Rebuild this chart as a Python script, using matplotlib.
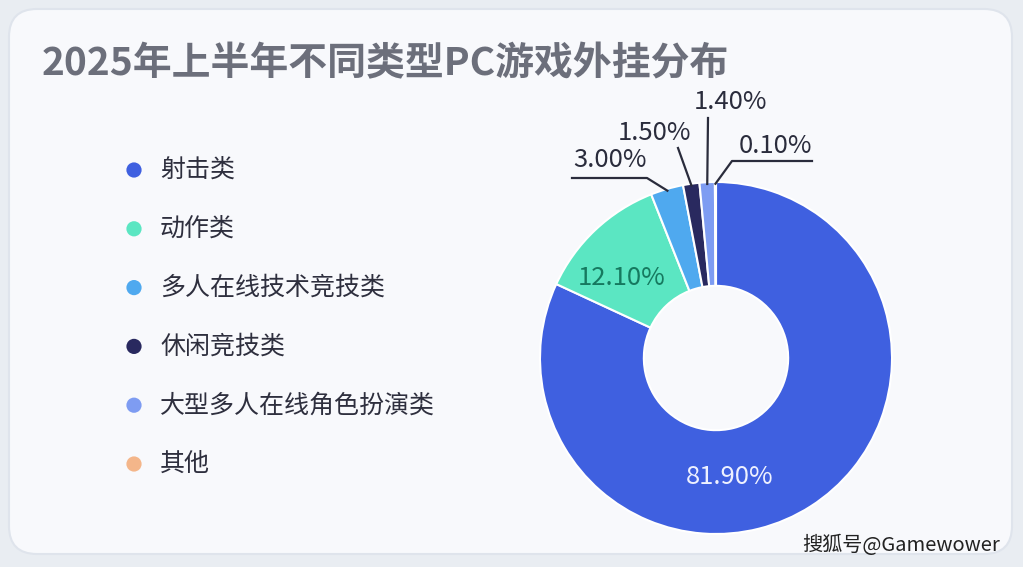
import numpy as np
import matplotlib.pyplot as plt
from matplotlib.patches import FancyBboxPatch

plt.rcParams['font.family'] = ['Noto Sans CJK SC', 'DejaVu Sans']

# data
categories = ['射击类', '动作类', '多人在线技术竞技类', '休闲竞技类', '大型多人在线角色扮演类', '其他']
shares = [81.9, 12.1, 3.0, 1.5, 1.4, 0.1]
colors = ['#3f60e0', '#5be6c2', '#4fa9ef', '#29295f', '#7e9cf2', '#f4b68a']
title = '2025年上半年不同类型PC游戏外挂分布'

W, H = 1023, 567
fig = plt.figure(figsize=(W / 100, H / 100), dpi=100)
fig.patch.set_facecolor('#e9edf2')

# card background, pixel coordinates (y down)
bg = fig.add_axes([0, 0, 1, 1])
bg.set_xlim(0, W)
bg.set_ylim(H, 0)
bg.axis('off')
card = FancyBboxPatch((9, 9), W - 20, H - 22, boxstyle='round,pad=0,rounding_size=28',
                      facecolor='#f8f9fc', edgecolor='#dfe4ec', linewidth=1.5)
bg.add_patch(card)

bg.text(42, 64, title, fontsize=28, fontweight='bold', color='#6c6f7b', va='center', ha='left')

# legend
for i, (cat, c) in enumerate(zip(categories, colors)):
    y = 170 + i * 58.8
    bg.scatter([134], [y], s=120, color=c, edgecolors='none')
    bg.text(160, y, cat, fontsize=18, color='#2e2f3e', va='center', ha='left')

bg.text(1000, 545, '搜狐号@Gamewower', fontsize=14.5, color='#222222', ha='right', va='center')

# donut, centre at (716,358), radius 176 px
cx, cy, r = 716, 358, 176
ax = fig.add_axes([(cx - r) / W, (H - cy - r) / H, 2 * r / W, 2 * r / H])
wedges, _ = ax.pie(shares, colors=colors, startangle=90, counterclock=False, radius=1,
                   wedgeprops=dict(width=0.59, edgecolor='white', linewidth=1.5))
ax.set_xlim(-1, 1)
ax.set_ylim(-1, 1)
ax.axis('off')

def edge_px(w, rad=0.99):
    a = np.deg2rad((w.theta1 + w.theta2) / 2)
    return cx + rad * r * np.cos(a), cy - rad * r * np.sin(a)

# labels drawn on top of the donut, placed in pixel coords
pix = bg.transData
ax.text(622, 278, f'{shares[1]:.2f}%', fontsize=18.5, color='#16795f', ha='center', va='center',
        transform=pix, clip_on=False)
ax.text(730, 477, f'{shares[0]:.2f}%', fontsize=18.5, color='#eef1ff', ha='center', va='center',
        transform=pix, clip_on=False)

line_kw = dict(color='#2a2c3c', linewidth=1.6, transform=pix, clip_on=False)
txt_kw = dict(fontsize=18.5, color='#2a2c3c', ha='center', va='center', transform=pix, clip_on=False)

# 3.00%
px, py = edge_px(wedges[2])
ax.plot([572, 647, px], [178, 178, py], **line_kw)
ax.text(610, 160, f'{shares[2]:.2f}%', **txt_kw)
# 1.50%
px, py = edge_px(wedges[3])
ax.plot([678, px], [148, py], **line_kw)
ax.text(654, 133, f'{shares[3]:.2f}%', **txt_kw)
# 1.40%
px, py = edge_px(wedges[4])
ax.plot([708, px], [118, py], **line_kw)
ax.text(730, 102, f'{shares[4]:.2f}%', **txt_kw)
# 0.10%
px, py = edge_px(wedges[5])
ax.plot([812, 732, px], [161, 161, py], **line_kw)
ax.text(776, 146, f'{shares[5]:.2f}%', **txt_kw)

fig.savefig('out.png', dpi=100, facecolor=fig.get_facecolor())
